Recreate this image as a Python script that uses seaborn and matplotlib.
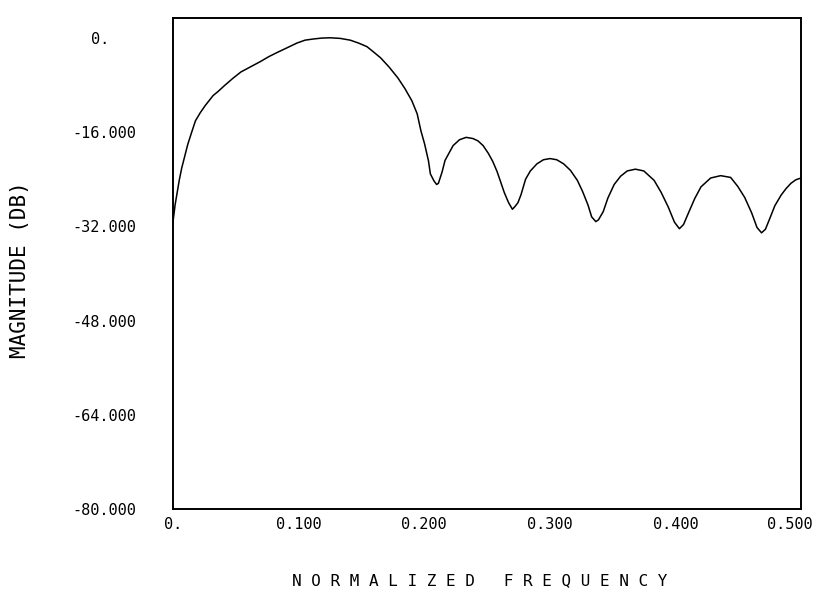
import matplotlib
matplotlib.use("Agg")
import matplotlib.pyplot as plt
import matplotlib.transforms as mtransforms
import seaborn as sns
import pandas as pd

# Normalized frequency values
freq = [0.0000, 0.0018, 0.0036, 0.0052, 0.0071, 0.0095, 0.0119, 0.0149, 0.0180, 0.0219,
        0.0258, 0.0321, 0.0361, 0.0412, 0.0477, 0.0542, 0.0621, 0.0700, 0.0764, 0.0830,
        0.0909, 0.0987, 0.1053, 0.1120, 0.1185, 0.1252, 0.1332, 0.1412, 0.1479, 0.1545,
        0.1586, 0.1654, 0.1723, 0.1791, 0.1847, 0.1903, 0.1945, 0.1975, 0.2004, 0.2035,
        0.2050, 0.2079, 0.2100, 0.2114, 0.2143, 0.2167, 0.2231, 0.2282, 0.2335, 0.2389,
        0.2429, 0.2470, 0.2511, 0.2547, 0.2581, 0.2610, 0.2639, 0.2673, 0.2703, 0.2721,
        0.2747, 0.2772, 0.2808, 0.2846, 0.2898, 0.2950, 0.3003, 0.3056, 0.3111, 0.3165,
        0.3220, 0.3262, 0.3305, 0.3334, 0.3367, 0.3388, 0.3426, 0.3463, 0.3513, 0.3564,
        0.3617, 0.3682, 0.3749, 0.3831, 0.3886, 0.3943, 0.3993, 0.4032, 0.4065, 0.4103,
        0.4154, 0.4204, 0.4281, 0.4361, 0.4440, 0.4496, 0.4552, 0.4607, 0.4650, 0.4686,
        0.4717, 0.4755, 0.4792, 0.4842, 0.4881, 0.4920, 0.4959, 0.5000]
# Magnitude in dB
mag_db = [-31.5, -28.4, -26.1, -24.1, -22.1, -20.1, -18.1, -16.1, -14.1, -12.7,
          -11.5, -9.8, -9.1, -8.1, -6.9, -5.8, -4.9, -4.0, -3.2, -2.5,
          -1.7, -0.9, -0.4, -0.2, -0.05, 0.0, -0.1, -0.4, -0.9, -1.5,
          -2.2, -3.4, -5.0, -6.8, -8.6, -10.7, -12.9, -15.8, -18.0, -20.9,
          -23.1, -24.3, -24.9, -24.7, -22.8, -20.8, -18.3, -17.3, -16.9, -17.1,
          -17.5, -18.3, -19.6, -21.0, -22.7, -24.5, -26.3, -28.0, -29.1, -28.7,
          -28.0, -26.6, -24.0, -22.6, -21.4, -20.7, -20.5, -20.7, -21.4, -22.5,
          -24.2, -26.1, -28.4, -30.4, -31.2, -30.9, -29.5, -27.2, -24.9, -23.5,
          -22.6, -22.3, -22.6, -24.2, -26.2, -28.7, -31.3, -32.4, -31.7, -29.8,
          -27.3, -25.3, -23.8, -23.4, -23.7, -25.2, -27.1, -29.7, -32.2, -33.1,
          -32.5, -30.5, -28.5, -26.7, -25.6, -24.7, -24.1, -23.8]

x_ticks = [0.0, 0.1, 0.2, 0.3, 0.4, 0.5]
x_tick_labels = ["0.", "0.100", "0.200", "0.300", "0.400", "0.500"]
y_ticks = [0, -16, -32, -48, -64, -80]
y_tick_labels = ["0.   ", "-16.000", "-32.000", "-48.000", "-64.000", "-80.000"]

sns.set_theme(style="white")
plt.rcParams['font.family'] = ['DejaVu Sans Mono', 'DejaVu Sans']

fig = plt.figure(figsize=(8.19, 5.92), dpi=100)
ax = fig.add_axes([0.211, 0.140, 0.767, 0.829])

df = pd.DataFrame({"freq": freq, "mag": mag_db})
sns.lineplot(data=df, x="freq", y="mag", color="black", linewidth=1.1, ax=ax, sort=False)

ax.set_xlim(0, 0.5)
ax.set_ylim(-80, 3.3)
ax.set_xticks(x_ticks)
ax.set_xticklabels(x_tick_labels)
ax.set_yticks(y_ticks)
ax.set_yticklabels(y_tick_labels)

ax.tick_params(axis='y', direction='in', length=5, width=1, pad=26, labelsize=11, colors='black')
ax.tick_params(axis='x', direction='in', length=3, width=1, pad=6, labelsize=11, colors='black')

# shift the last x tick label slightly left, as in the reference
last = ax.get_xticklabels()[-1]
last.set_transform(last.get_transform() +
                   mtransforms.ScaledTranslation(-11 / 100, 0, fig.dpi_scale_trans))

for s in ax.spines.values():
    s.set_visible(True)
    s.set_color('black')
    s.set_linewidth(1.4)

ax.set_xlabel("N O R M A L I Z E D   F R E Q U E N C Y", fontsize=11.5, color='black')
ax.set_ylabel("MAGNITUDE (DB)", fontsize=15, color='black')
ax.xaxis.set_label_coords(0.489, -0.130)
ax.yaxis.set_label_coords(-0.228, 0.489)
ax.grid(False)

fig.savefig("out.png", dpi=100, facecolor="white")
